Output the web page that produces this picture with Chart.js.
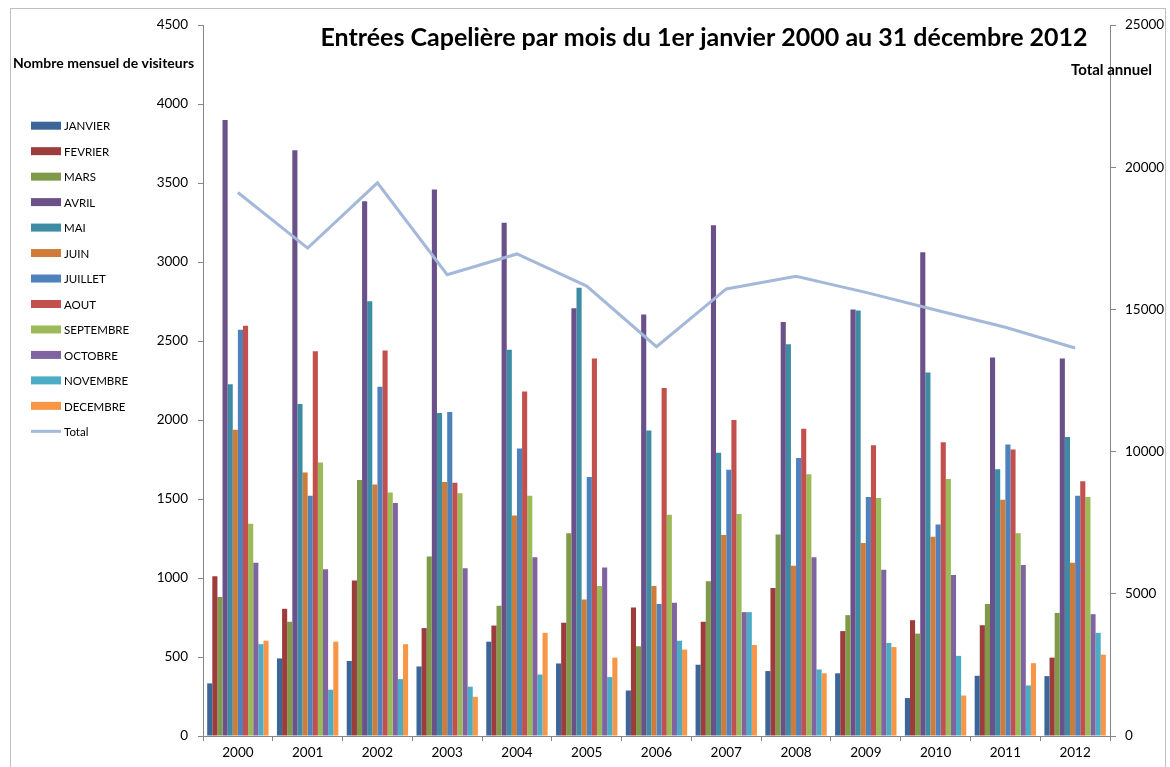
<!DOCTYPE html>
<html>
<head>
<meta charset="utf-8">
<script src="https://cdn.jsdelivr.net/npm/chart.js"></script>
<style>
  body { margin: 0; background: #fff; }
</style>
</head>
<body>
<canvas id="capeliere" width="1170" height="767"></canvas>
<script>
let years = ["2000","2001","2002","2003","2004","2005","2006","2007","2008","2009","2010","2011","2012"];
let months = ["JANVIER","FEVRIER","MARS","AVRIL","MAI","JUIN","JUILLET","AOUT","SEPTEMBRE","OCTOBRE","NOVEMBRE","DECEMBRE"];

let janvier   = [333, 491, 475, 440, 597, 459, 288, 451, 411, 397, 240, 381, 379];
let fevrier   = [1011, 805, 984, 683, 699, 717, 813, 723, 936, 664, 733, 701, 496];
let mars      = [880, 723, 1621, 1136, 824, 1283, 568, 979, 1275, 765, 648, 835, 779];
let avril     = [3899, 3707, 3384, 3459, 3248, 2707, 2667, 3232, 2621, 2699, 3061, 2395, 2389];
let mai       = [2227, 2101, 2752, 2045, 2445, 2837, 1933, 1792, 2480, 2693, 2301, 1688, 1893];
let juin      = [1939, 1667, 1592, 1608, 1395, 864, 949, 1272, 1077, 1221, 1261, 1496, 1096];
let juillet   = [2571, 1520, 2211, 2051, 1819, 1640, 835, 1685, 1760, 1512, 1339, 1845, 1520];
let aout      = [2597, 2435, 2440, 1603, 2181, 2389, 2203, 2000, 1944, 1840, 1859, 1813, 1613];
let septembre = [1344, 1731, 1541, 1536, 1520, 949, 1400, 1405, 1656, 1507, 1627, 1283, 1512];
let octobre   = [1096, 1056, 1475, 1061, 1131, 1067, 843, 784, 1131, 1053, 1019, 1083, 771];
let novembre  = [581, 293, 360, 312, 389, 373, 603, 784, 421, 589, 507, 320, 653];
let decembre  = [603, 597, 581, 248, 653, 496, 547, 576, 397, 563, 256, 461, 515];

let totals = [19111, 17156, 19451, 16222, 16950, 15822, 13689, 15719, 16163, 15600, 14978, 14370, 13644];

let monthValues = [janvier, fevrier, mars, avril, mai, juin, juillet, aout, septembre, octobre, novembre, decembre];
let monthColors = ["#3C6698", "#9C3D3B", "#7F9A49", "#6A518A", "#3D8CA4", "#CF7B39",
                   "#4F81BD", "#C2504D", "#9BBB59", "#8064A2", "#4BACC6", "#F79646"];
let totalColor = "#A4B8D9";

let font = "Lato, 'Open Sans', sans-serif";

let datasets = months.map((m, i) => ({
    type: "bar",
    label: m,
    data: monthValues[i],
    backgroundColor: monthColors[i],
    yAxisID: "y",
    categoryPercentage: 0.88,
    barPercentage: 1.0,
    order: 1
}));

datasets.push({
    type: "line",
    label: "Total",
    data: totals,
    borderColor: totalColor,
    borderWidth: 3,
    pointRadius: 0,
    tension: 0,
    yAxisID: "y1",
    order: 0
});

// titles, frame and the left legend
let decorations = {
    id: "decorations",
    beforeDraw(chart) {
        let ctx = chart.ctx;
        ctx.save();
        ctx.strokeStyle = "#BFBFBF";
        ctx.lineWidth = 1;
        ctx.strokeRect(10.5, 8.5, 1155, 800);
        ctx.restore();
    },
    afterDraw(chart) {
        let ctx = chart.ctx;
        ctx.save();
        ctx.fillStyle = "#000";
        ctx.textBaseline = "middle";

        ctx.font = "bold 25px " + font;
        ctx.textAlign = "center";
        ctx.fillText("Entrées Capelière par mois du 1er janvier 2000 au 31 décembre 2012", 704, 38);

        ctx.textAlign = "left";
        ctx.font = "bold 14px " + font;
        ctx.fillText("Nombre mensuel de visiteurs", 13, 63);
        ctx.font = "bold 15px " + font;
        ctx.fillText("Total annuel", 1071, 70);

        ctx.font = "11.5px " + font;
        chart.data.datasets.forEach((ds, i) => {
            let cy = 125.7 + i * 25.47;
            if (ds.type === "line") {
                ctx.strokeStyle = ds.borderColor;
                ctx.lineWidth = 3;
                ctx.beginPath();
                ctx.moveTo(31, cy);
                ctx.lineTo(61, cy);
                ctx.stroke();
            } else {
                ctx.fillStyle = ds.backgroundColor;
                ctx.fillRect(31, cy - 4, 30, 8);
            }
            ctx.fillStyle = "#000";
            ctx.fillText(ds.label, 64, cy + 1);
        });
        ctx.restore();
    }
};

let tickFont = { family: font, size: 13.5 };
let plain = (v) => String(v);

new Chart(document.getElementById("capeliere"), {
    type: "bar",
    data: { labels: years, datasets: datasets },
    plugins: [decorations],
    options: {
        responsive: false,
        animation: false,
        layout: { padding: { left: 153, right: 0, top: 25, bottom: 6 } },
        plugins: {
            legend: { display: false },
            tooltip: { enabled: false }
        },
        scales: {
            x: {
                grid: { drawOnChartArea: false, tickLength: 5, color: "#868686" },
                border: { color: "#868686" },
                ticks: { font: tickFont, color: "#000", padding: 4, maxRotation: 0 },
                afterFit(scale) { scale.height = 25; }
            },
            y: {
                position: "left",
                min: 0,
                max: 4500,
                grid: { drawOnChartArea: false, tickLength: 5, color: "#868686" },
                border: { color: "#868686" },
                ticks: { stepSize: 500, font: tickFont, color: "#000", padding: 10, callback: plain },
                afterFit(scale) { scale.width = 50; }
            },
            y1: {
                position: "right",
                min: 0,
                max: 25000,
                grid: { drawOnChartArea: false, tickLength: 6, color: "#868686" },
                border: { color: "#868686" },
                ticks: { stepSize: 5000, font: tickFont, color: "#000", padding: 9, callback: plain },
                afterFit(scale) { scale.width = 60; }
            }
        }
    }
});
</script>
</body>
</html>
